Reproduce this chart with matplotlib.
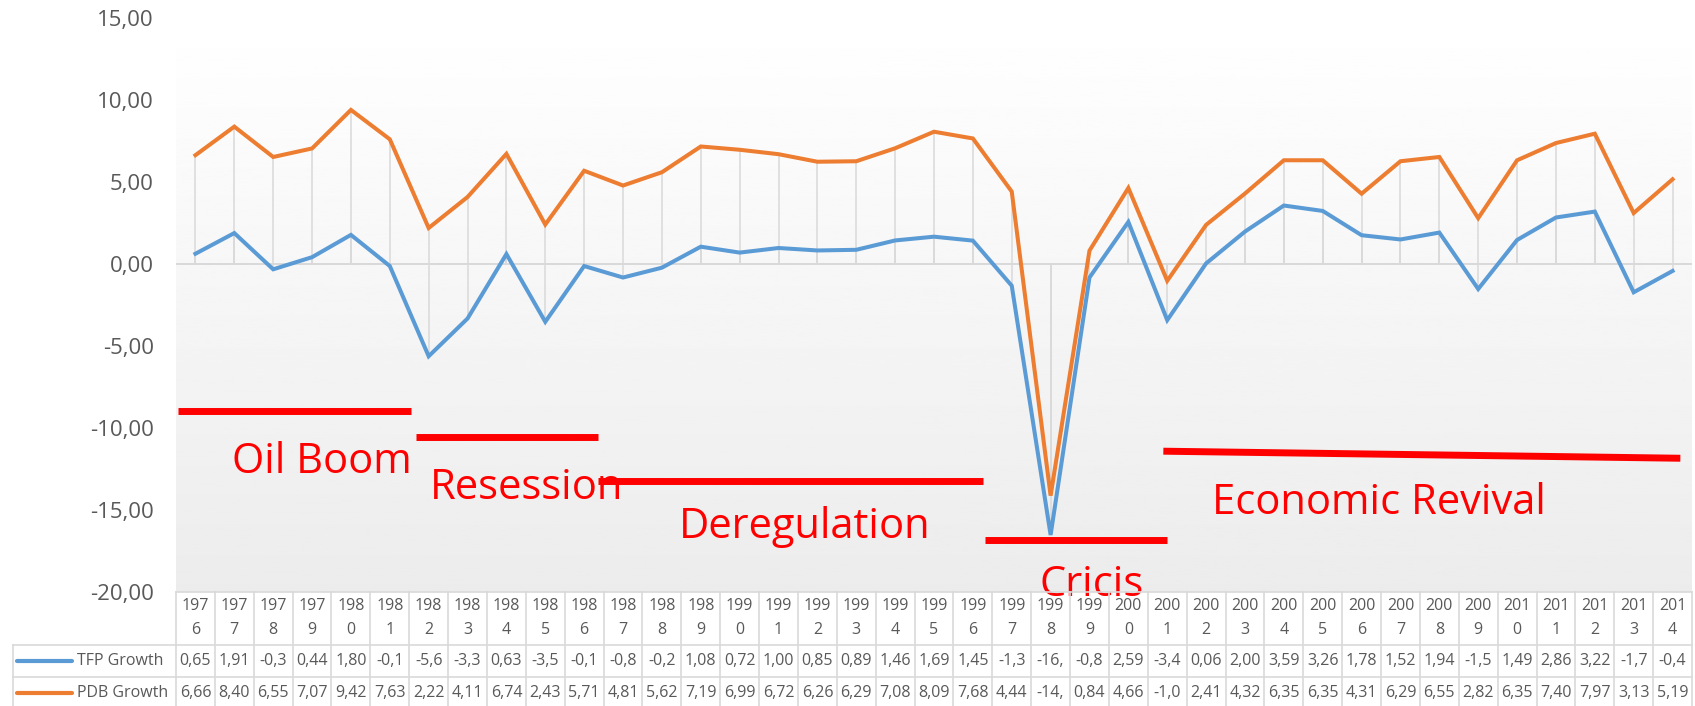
import numpy as np
import matplotlib.pyplot as plt
from matplotlib.lines import Line2D
from matplotlib import transforms

plt.rcParams['font.family'] = ['Open Sans', 'DejaVu Sans']

years = list(range(1976, 2015))
tfp_growth = [0.65, 1.91, -0.30, 0.44, 1.80, -0.10, -5.60, -3.30, 0.63, -3.50,
              -0.10, -0.80, -0.20, 1.08, 0.72, 1.00, 0.85, 0.89, 1.46, 1.69,
              1.45, -1.30, -16.50, -0.80, 2.59, -3.40, 0.06, 2.00, 3.59, 3.26,
              1.78, 1.52, 1.94, -1.50, 1.49, 2.86, 3.22, -1.70, -0.40]
pdb_growth = [6.66, 8.40, 6.55, 7.07, 9.42, 7.63, 2.22, 4.11, 6.74, 2.43,
              5.71, 4.81, 5.62, 7.19, 6.99, 6.72, 6.26, 6.29, 7.08, 8.09,
              7.68, 4.44, -14.10, 0.84, 4.66, -1.00, 2.41, 4.32, 6.35, 6.35,
              4.31, 6.29, 6.55, 2.82, 6.35, 7.40, 7.97, 3.13, 5.19]
series_names = ['TFP Growth', 'PDB Growth']
yticks = [-20, -15, -10, -5, 0, 5, 10, 15]

# period annotations: (label, x0, x1, y0, y1, text x, text y)
periods = [
    ('Oil Boom', -0.45, 5.54, -8.94, -8.94, 0.94, -12.74),
    ('Resession', 5.67, 10.35, -10.53, -10.53, 6.03, -14.32),
    ('Deregulation', 10.35, 20.27, -13.23, -13.23, 12.43, -16.7),
    ('Cricis', 20.32, 25.0, -16.78, -16.78, 21.72, -20.25),
    ('Economic Revival', 24.9, 38.2, -11.39, -11.82, 26.15, -15.25),
]

blue = '#5B9BD5'
orange = '#ED7D31'
grey_txt = '#595959'
grid_c = '#d9d9d9'

W, H = 1695, 706
fig = plt.figure(figsize=(W / 100, H / 100), dpi=100)
ax_left, ax_right = 176 / W, 1692 / W
ax_top, ax_bot = 1 - 18.4 / H, 1 - 592.4 / H
ax = fig.add_axes([ax_left, ax_bot, ax_right - ax_left, ax_top - ax_bot])

n = len(years)
x = np.arange(n)
ax.set_xlim(-0.5, n - 0.5)
ax.set_ylim(-20, 15)

# gradient background
grad = np.linspace(1.0, 0.925, 256).reshape(-1, 1)
ax.imshow(grad, cmap='gray', vmin=0, vmax=1, aspect='auto',
          extent=[-0.5, n - 0.5, -20, 15], zorder=0)

ax.axhline(0, color=grid_c, lw=1.4, zorder=1)
ax.vlines(x, 0, pdb_growth, color=grid_c, lw=1.1, zorder=1)
ax.vlines(x, 0, tfp_growth, color=grid_c, lw=1.1, zorder=1)

ax.plot(x, tfp_growth, color=blue, lw=2.9, zorder=3, solid_joinstyle='miter')
ax.plot(x, pdb_growth, color=orange, lw=2.9, zorder=3, solid_joinstyle='miter')

for sp in ax.spines.values():
    sp.set_visible(False)
ax.set_xticks([])
ax.set_yticks(yticks)
ax.set_yticklabels([f'{v:.2f}'.replace('.', ',') for v in yticks])
ax.tick_params(axis='y', length=0, pad=16, labelsize=16, labelcolor=grey_txt)

# red period markers
for label, x0, x1, y0, y1, tx, ty in periods:
    ax.plot([x0, x1], [y0, y1], color='#FF0000', lw=5, zorder=4,
            solid_capstyle='butt', clip_on=False)
    ax.text(tx, ty, label, color='#FF0000', fontsize=30, va='baseline',
            ha='left', zorder=5, clip_on=False)

# data table below the chart
tr = transforms.blended_transform_factory(ax.transData, fig.transFigure)
def fy(py):
    return 1 - py / H

top, hdr_bot, r1_bot, r2_bot = 592.4, 645, 677, 712
edges = np.arange(n + 1) - 0.5
for e in edges:
    fig.add_artist(Line2D([e, e], [fy(top), fy(r2_bot)], transform=tr,
                          color=grid_c, lw=1.2))
fig.add_artist(Line2D([-0.5, n - 0.5], [fy(top), fy(top)], transform=tr,
                      color=grid_c, lw=1.2))
for py in (hdr_bot, r1_bot):
    fig.add_artist(Line2D([13 / W, ax_right], [fy(py), fy(py)],
                          transform=fig.transFigure, color=grid_c, lw=1.2))
fig.add_artist(Line2D([13 / W, 13 / W], [fy(hdr_bot), fy(r2_bot)],
                      transform=fig.transFigure, color=grid_c, lw=1.2))

for i, yr in enumerate(years):
    s = str(yr)
    fig.text(i, fy(606), s[:3], transform=tr, ha='center', va='center',
             fontsize=11.5, color=grey_txt)
    fig.text(i, fy(630), s[3:], transform=tr, ha='center', va='center',
             fontsize=11.5, color=grey_txt)

row_y = [661, 693]
for vals, name, col, ry in zip([tfp_growth, pdb_growth], series_names,
                               [blue, orange], row_y):
    fig.add_artist(Line2D([17 / W, 72 / W], [fy(ry), fy(ry)],
                          transform=fig.transFigure, color=col, lw=3,
                          solid_capstyle='round'))
    fig.text(77 / W, fy(ry), name, ha='left', va='center', fontsize=11.5,
             color=grey_txt)
    for i, v in enumerate(vals):
        fig.text(i, fy(ry), f'{v:.2f}'.replace('.', ',')[:4], transform=tr,
                 ha='center', va='center', fontsize=11.5, color=grey_txt)

fig.savefig('out.png', dpi=100, facecolor='white')
